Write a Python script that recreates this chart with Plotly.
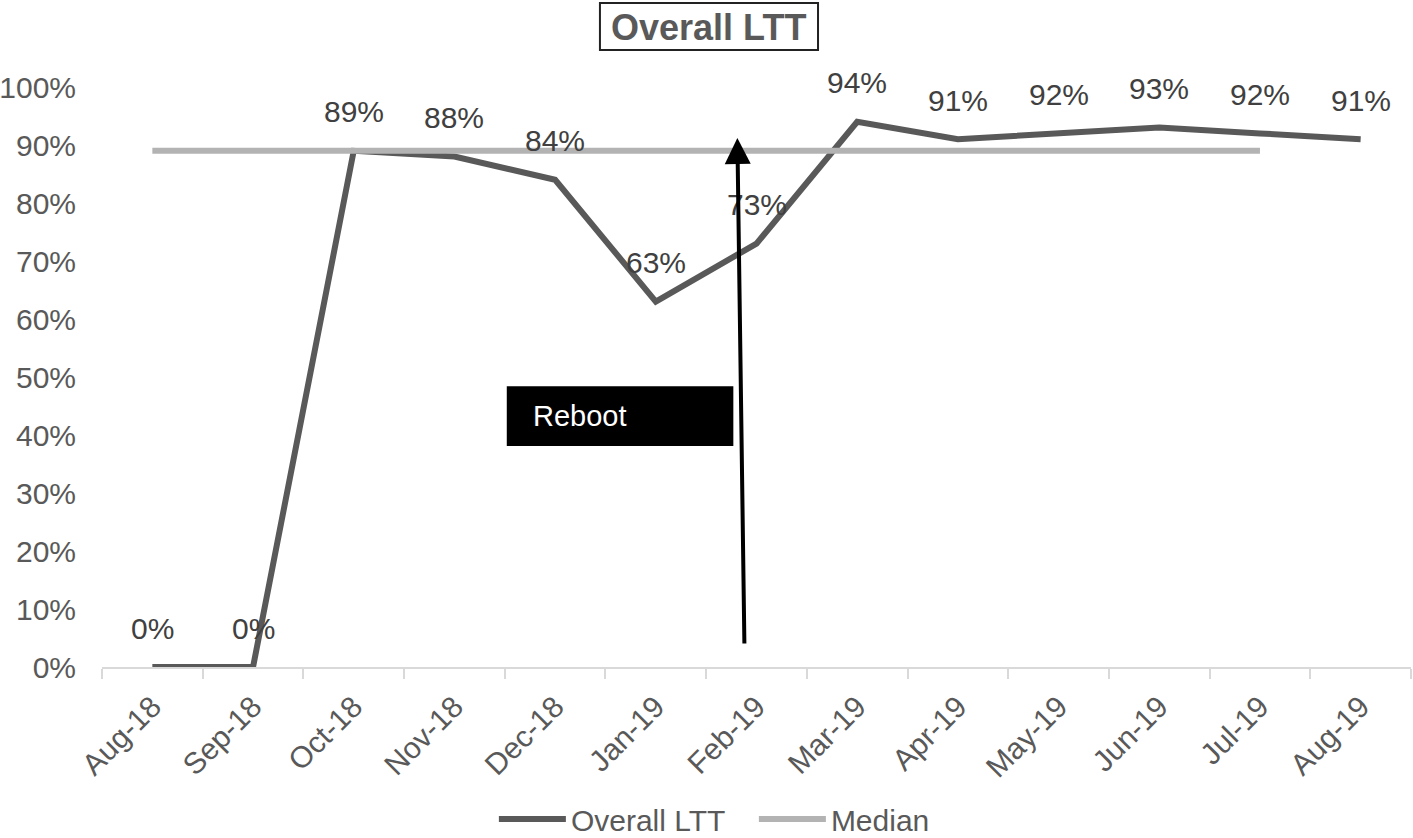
import plotly.graph_objects as go

months = ["Aug-18", "Sep-18", "Oct-18", "Nov-18", "Dec-18", "Jan-19", "Feb-19",
          "Mar-19", "Apr-19", "May-19", "Jun-19", "Jul-19", "Aug-19"]
overall_ltt = [0.00, 0.00, 0.89, 0.88, 0.84, 0.63, 0.73, 0.94, 0.91, 0.92, 0.93, 0.92, 0.91]
median_months = months[:12]
median_vals = [0.89] * 12
y_ticks = [0, 0.1, 0.2, 0.3, 0.4, 0.5, 0.6, 0.7, 0.8, 0.9, 1.0]

FONT = "Liberation Sans, Arial, Helvetica, sans-serif"
DARK = "#595959"
LIGHT = "#b3b3b3"

fig = go.Figure()
fig.add_trace(go.Scatter(x=months, y=overall_ltt, mode="lines", name="Overall LTT",
                         line=dict(color=DARK, width=6)))
fig.add_trace(go.Scatter(x=median_months, y=median_vals, mode="lines", name="Median",
                         line=dict(color=LIGHT, width=6)))

# data labels
for m, v in zip(months, overall_ltt):
    fig.add_annotation(x=m, y=v, text=f"{round(v*100)}%", showarrow=False,
                       xanchor="center", yanchor="middle",
                       yshift=39, font=dict(size=30, color="#404040", family=FONT))

# Reboot box
fig.add_shape(type="rect", xref="x", yref="y", x0=3.52, x1=5.77, y0=0.381, y1=0.484,
              fillcolor="black", line=dict(width=0), layer="above")
fig.add_annotation(x=3.76, y=0.433, xref="x", yref="y", text="Reboot", showarrow=False,
                   xanchor="left", yanchor="middle",
                   font=dict(size=29, color="white", family=FONT))

# Arrow
fig.add_annotation(x=5.81, y=0.912, ax=5.88, ay=0.038, xref="x", yref="y",
                   axref="x", ayref="y", text="", showarrow=True, arrowhead=2,
                   arrowsize=1.3, arrowwidth=4, arrowcolor="black")

# Title box
fig.add_shape(type="rect", xref="paper", yref="paper", x0=0.3804, x1=0.5470,
              y0=1.0638, y1=1.1448, line=dict(color="#222222", width=2),
              fillcolor="white", layer="above")
fig.add_annotation(xref="paper", yref="paper", x=0.4637, y=1.1034, text="<b>Overall LTT</b>",
                   xanchor="center", yanchor="middle",
                   showarrow=False, font=dict(size=36, color=DARK, family=FONT))

fig.update_layout(
    width=1413, height=838,
    margin=dict(l=102, r=2, t=87, b=171, autoexpand=False),
    paper_bgcolor="white", plot_bgcolor="white",
    font=dict(family=FONT, color=DARK, size=30),
    showlegend=True,
    legend=dict(orientation="h", x=0.498, xanchor="center", y=-0.262, yanchor="middle",
                font=dict(size=30, color=DARK, family=FONT), itemwidth=67,
                entrywidth=178, entrywidthmode="pixels", tracegroupgap=0),
)
fig.update_xaxes(type="category", range=[-0.5, 12.5], showgrid=False, showline=True,
                 linecolor="#d9d9d9", linewidth=2, ticks="outside", tickson="boundaries",
                 ticklen=10, tickcolor="#d9d9d9", tickwidth=2, tickangle=-45,
                 ticklabelstandoff=8, automargin=False,
                 tickfont=dict(size=30, color=DARK, family=FONT))
fig.update_yaxes(range=[0, 1.0], tickvals=y_ticks, tickformat=".0%", showgrid=False,
                 zeroline=False, showline=False, ticklabelstandoff=25, automargin=False,
                 tickfont=dict(size=30, color=DARK, family=FONT))

fig.write_html("out.html", post_script="document.body.style.margin='0';",
               config={"displayModeBar": False})
